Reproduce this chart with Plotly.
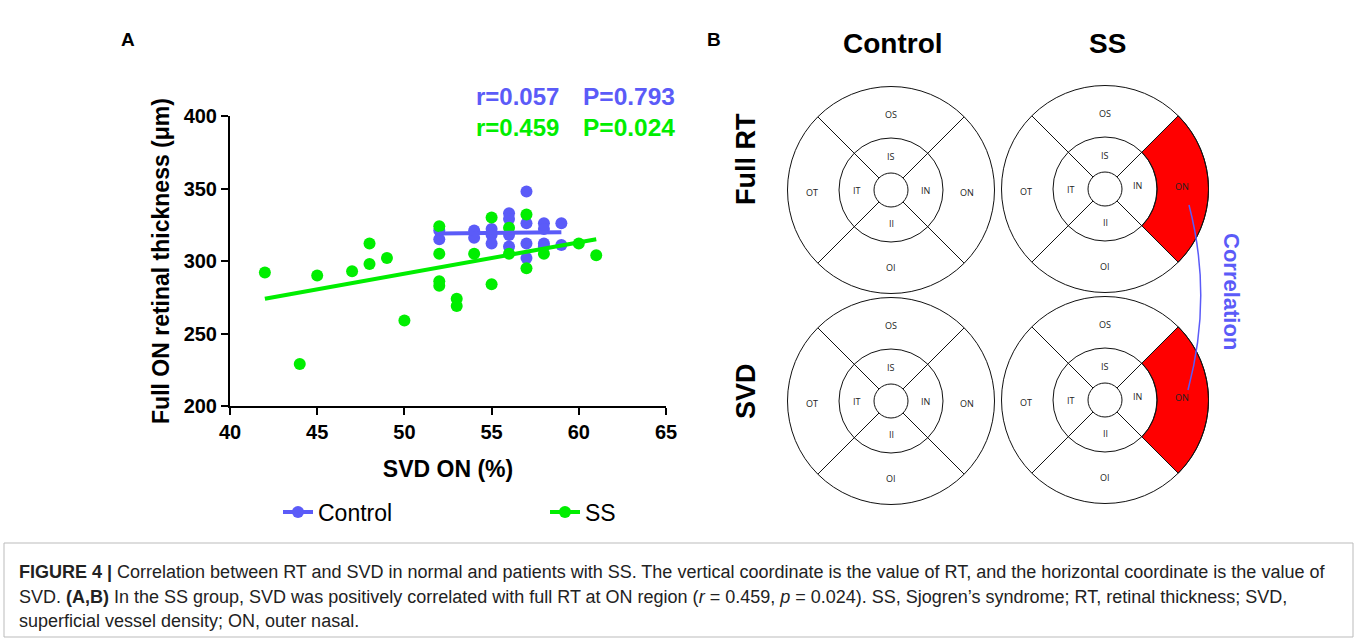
import numpy as np
import plotly.graph_objects as go

# ---------------- data (panel A) ----------------
ctrl_x = [52, 52, 54, 54, 55, 55, 55, 56, 56, 56, 56, 57, 57, 57, 57, 58, 58, 58, 58, 59, 59]
ctrl_y = [321, 315, 321, 316, 322, 318, 312, 333, 329, 318, 310, 348, 326, 312, 302, 326, 322, 312, 310, 326, 311]

ss_x = [42, 44, 45, 47, 48, 48, 49, 50, 52, 52, 52, 52, 53, 53, 54, 55, 55, 56, 56, 57, 57, 58, 60, 61]
ss_y = [292, 229, 290, 293, 312, 298, 302, 259, 324, 305, 286, 283, 274, 269, 305, 330, 284, 323, 305, 332, 295, 305, 312, 304]

x_ticks = [40, 45, 50, 55, 60, 65]
y_ticks = [200, 250, 300, 350, 400]

stats_ctrl = ["r=0.057", "P=0.793"]
stats_ss = ["r=0.459", "P=0.024"]

# ---------------- panel B labels ----------------
col_titles = ["Control", "SS"]
row_titles = ["Full RT", "SVD"]
sector_labels = ["OS", "OI", "OT", "ON", "IS", "II", "IT", "IN"]

BLUE = "#5B5BF8"
GREEN = "#00EE00"
FONT = "Liberation Sans, Arial, sans-serif"

W, H = 1357, 641


def px(x):
    return x / W


def py(y):
    return 1 - y / H


fig = go.Figure()


def fit_line(xs, ys):
    xs = np.asarray(xs, float)
    ys = np.asarray(ys, float)
    k, b = np.polyfit(xs, ys, 1)
    xx = np.array([xs.min(), xs.max()])
    return xx, k * xx + b


for xs, ys, col, name in [(ctrl_x, ctrl_y, BLUE, "Control"), (ss_x, ss_y, GREEN, "SS")]:
    fig.add_trace(go.Scatter(x=xs, y=ys, mode="markers", marker=dict(color=col, size=12),
                             showlegend=False, xaxis="x", yaxis="y"))
for xs, ys, col, name in [(ctrl_x, ctrl_y, BLUE, "Control"), (ss_x, ss_y, GREEN, "SS")]:
    lx, ly = fit_line(xs, ys)
    fig.add_trace(go.Scatter(x=lx, y=ly, mode="lines", line=dict(color=col, width=4),
                             showlegend=False, xaxis="x", yaxis="y"))
# legend entries
for col, name in [(BLUE, "Control"), (GREEN, "SS")]:
    fig.add_trace(go.Scatter(x=[None], y=[None], mode="lines+markers", name=name,
                             line=dict(color=col, width=4), marker=dict(color=col, size=12),
                             xaxis="x", yaxis="y"))

axis_common = dict(showline=True, linecolor="black", linewidth=2, ticks="outside",
                   ticklen=7, tickwidth=2, tickcolor="black", showgrid=False, zeroline=False,
                   automargin=False,
                   tickfont=dict(family=FONT, size=20, color="black", weight="bold"))

layout = dict(
    width=W, height=H, margin=dict(l=0, r=0, t=0, b=0, autoexpand=False),
    paper_bgcolor="white", plot_bgcolor="rgba(0,0,0,0)",
    xaxis=dict(domain=[px(230), px(666)], range=[40, 65], tickvals=x_ticks, anchor="y",
               title=dict(text="SVD ON (%)", standoff=19,
                          font=dict(family=FONT, size=23, color="black", weight="bold")),
               **axis_common),
    yaxis=dict(domain=[py(406), py(116)], range=[200, 400], tickvals=y_ticks, anchor="x",
               title=dict(text="Full ON retinal thickness (μm)", standoff=8,
                          font=dict(family=FONT, size=23, color="black", weight="bold")),
               **axis_common),
    xaxis2=dict(domain=[px(700), px(1300)], range=[700, 1300], visible=False, anchor="y2", automargin=False),
    yaxis2=dict(domain=[py(530), py(0)], range=[530, 0], visible=False, anchor="x2", automargin=False),
    legend=dict(orientation="h", x=px(278), y=py(512), xanchor="left", yanchor="middle",
                entrywidth=222, entrywidthmode="pixels", bgcolor="rgba(0,0,0,0)",
                font=dict(family=FONT, size=23, color="black")),
    showlegend=True,
)
fig.update_layout(**layout)

ann = []
shapes = []


def pann(text, x, y, size, color="black", xanchor="center", **kw):
    ann.append(dict(text=text, x=px(x), y=py(y), xref="paper", yref="paper", showarrow=False,
                    xanchor=xanchor, yanchor="middle",
                    font=dict(family=FONT, size=size, color=color), **kw))


def dann(text, x, y, size, color="black", family=FONT, **kw):
    ann.append(dict(text=text, x=x, y=y, xref="x2", yref="y2", showarrow=False,
                    xanchor="center", yanchor="middle",
                    font=dict(family=family, size=size, color=color), **kw))


# panel letters
pann("<b>A</b>", 128, 40, 19)
pann("<b>B</b>", 714, 40, 19)

# stats text
for (r, p), col, yy in [(stats_ctrl, BLUE, 97), (stats_ss, GREEN, 127)]:
    pann("<b>%s</b>" % r, 474, yy, 24, col, xanchor="left")
    pann("<b>%s</b>" % p, 581, yy, 24.5, col, xanchor="left")

# ---------------- panel B: ETDRS grids ----------------
centers = {(0, 0): (891, 190), (0, 1): (1105, 189), (1, 0): (891, 401), (1, 1): (1105, 400)}
R_OUT, R_MID, R_IN = 103.5, 52, 17
LINE = dict(color="#111", width=1)

for (ri, ci), (cx, cy) in centers.items():
    if ci == 1:
        # red ON sector
        angs = np.linspace(-np.pi / 4, np.pi / 4, 60)
        outer = [(cx + R_OUT * np.cos(a), cy - R_OUT * np.sin(a)) for a in angs]
        inner = [(cx + R_MID * np.cos(a), cy - R_MID * np.sin(a)) for a in angs[::-1]]
        pts = outer + inner
        path = "M " + " L ".join("%.2f,%.2f" % p for p in pts) + " Z"
        shapes.append(dict(type="path", path=path, xref="x2", yref="y2",
                           fillcolor="#FF0000", line=dict(color="#111", width=1), layer="below"))
    for r in (R_OUT, R_MID, R_IN):
        shapes.append(dict(type="circle", xref="x2", yref="y2", x0=cx - r, x1=cx + r,
                           y0=cy - r, y1=cy + r, line=LINE))
    for a in (45, 135, 225, 315):
        t = np.deg2rad(a)
        shapes.append(dict(type="line", xref="x2", yref="y2",
                           x0=cx + R_IN * np.cos(t), y0=cy - R_IN * np.sin(t),
                           x1=cx + R_OUT * np.cos(t), y1=cy - R_OUT * np.sin(t), line=LINE))
    offs = [(0, -76), (0, 77), (-79, 2), (76, 2), (0, -34), (0, 33), (-34, 0), (34, 0)]
    if ci == 1:
        offs[3] = (77, -3)
        offs[7] = (32, -4)
    for lab, (dx, dy) in zip(sector_labels, offs):
        dann(lab, cx + dx, cy + dy, 9, "#222", family="Open Sans, Noto Sans, sans-serif")

for ci, t in enumerate(col_titles):
    cx = centers[(0, ci)][0]
    dann("<b>%s</b>" % t, cx + 2, 43, 28)
for ri, t in enumerate(row_titles):
    cy = centers[(ri, 0)][1]
    dann("<b>%s</b>" % t, 746, cy - 31 if ri == 0 else cy - 10, 27, textangle=-90)

# correlation connector
shapes.append(dict(type="path", xref="x2", yref="y2", path="M 1189,205 Q 1213,297 1188,390",
                   line=dict(color=BLUE, width=1.5)))
dann("<b>Correlation</b>", 1232, 291, 22, BLUE, textangle=90)

# ---------------- caption ----------------
shapes.append(dict(type="rect", xref="paper", yref="paper", x0=px(4), x1=px(1353), y0=py(543), y1=py(637),
                   line=dict(color="#bbb", width=1)))
cap = [
    "<b>FIGURE 4 |</b> Correlation between RT and SVD in normal and patients with SS. The vertical coordinate is the value of RT, and the horizontal coordinate is the value of",
    "SVD. <b>(A,B)</b> In the SS group, SVD was positively correlated with full RT at ON region (<i>r</i> = 0.459, <i>p</i> = 0.024). SS, Sjogren’s syndrome; RT, retinal thickness; SVD,",
    "superficial vessel density; ON, outer nasal.",
]
for t, yy in zip(cap, [572, 597, 621]):
    pann(t, 17, yy, 18, "#222", xanchor="left")

fig.update_layout(annotations=ann, shapes=shapes)
fig.write_html("out.html", config={"displayModeBar": False},
               post_script="document.body.style.margin='0px';")
